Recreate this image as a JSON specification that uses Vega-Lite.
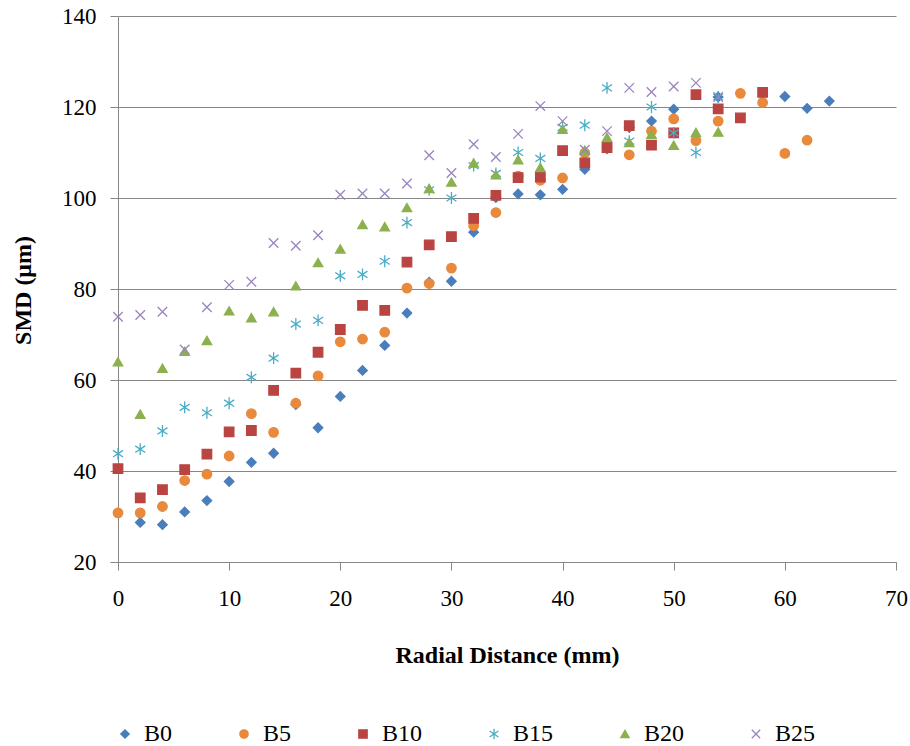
{
"$schema": "https://vega.github.io/schema/vega-lite/v6.json",
"width": 778, "height": 546,
"autosize": {"type": "none"},
"padding": {"left": 118, "top": 16, "right": 14, "bottom": 184},
"background": "white",
"config": {"view": {"stroke": null}, "font": "Liberation Serif",
 "legend": {"orient": "none", "legendX": -5, "legendY": 706, "direction": "horizontal", "columnPadding": 59, "padding": 0,
  "labelFont": "Liberation Serif", "labelFontSize": 24, "labelColor": "#000", "labelOffset": 7, "symbolSize": 70, "symbolStrokeWidth": 1.3, "title": null}},
"data": {"values": [
{"s":"B0","x":2,"v":28.7},{"s":"B0","x":4,"v":28.2},{"s":"B0","x":6,"v":31.0},{"s":"B0","x":8,"v":33.5},{"s":"B0","x":10,"v":37.7},{"s":"B0","x":12,"v":41.9},{"s":"B0","x":14,"v":43.9},{"s":"B0","x":16,"v":54.6},{"s":"B0","x":18,"v":49.5},{"s":"B0","x":20,"v":56.4},{"s":"B0","x":22,"v":62.1},{"s":"B0","x":24,"v":67.6},{"s":"B0","x":26,"v":74.7},{"s":"B0","x":28,"v":81.5},{"s":"B0","x":30,"v":81.7},{"s":"B0","x":32,"v":92.5},{"s":"B0","x":34,"v":100.1},{"s":"B0","x":36,"v":100.9},{"s":"B0","x":38,"v":100.7},{"s":"B0","x":40,"v":101.9},{"s":"B0","x":42,"v":106.3},{"s":"B0","x":44,"v":110.8},{"s":"B0","x":46,"v":115.5},{"s":"B0","x":48,"v":116.9},{"s":"B0","x":50,"v":119.5},{"s":"B0","x":54,"v":122.2},{"s":"B0","x":60,"v":122.3},{"s":"B0","x":62,"v":119.7},{"s":"B0","x":64,"v":121.3},
{"s":"B5","x":0,"v":30.8},{"s":"B5","x":2,"v":30.8},{"s":"B5","x":4,"v":32.2},{"s":"B5","x":6,"v":37.9},{"s":"B5","x":8,"v":39.3},{"s":"B5","x":10,"v":43.3},{"s":"B5","x":12,"v":52.6},{"s":"B5","x":14,"v":48.5},{"s":"B5","x":16,"v":54.9},{"s":"B5","x":18,"v":60.9},{"s":"B5","x":20,"v":68.4},{"s":"B5","x":22,"v":69.0},{"s":"B5","x":24,"v":70.5},{"s":"B5","x":26,"v":80.2},{"s":"B5","x":28,"v":81.2},{"s":"B5","x":30,"v":84.6},{"s":"B5","x":32,"v":93.9},{"s":"B5","x":34,"v":96.8},{"s":"B5","x":36,"v":104.8},{"s":"B5","x":38,"v":103.9},{"s":"B5","x":40,"v":104.4},{"s":"B5","x":42,"v":109.9},{"s":"B5","x":44,"v":111.3},{"s":"B5","x":46,"v":109.5},{"s":"B5","x":48,"v":114.7},{"s":"B5","x":50,"v":117.4},{"s":"B5","x":52,"v":112.6},{"s":"B5","x":54,"v":116.9},{"s":"B5","x":56,"v":123.0},{"s":"B5","x":58,"v":121.0},{"s":"B5","x":60,"v":109.8},{"s":"B5","x":62,"v":112.7},
{"s":"B10","x":0,"v":40.5},{"s":"B10","x":2,"v":34.1},{"s":"B10","x":4,"v":35.9},{"s":"B10","x":6,"v":40.3},{"s":"B10","x":8,"v":43.7},{"s":"B10","x":10,"v":48.6},{"s":"B10","x":12,"v":48.9},{"s":"B10","x":14,"v":57.7},{"s":"B10","x":16,"v":61.5},{"s":"B10","x":18,"v":66.1},{"s":"B10","x":20,"v":71.1},{"s":"B10","x":22,"v":76.4},{"s":"B10","x":24,"v":75.3},{"s":"B10","x":26,"v":85.9},{"s":"B10","x":28,"v":89.7},{"s":"B10","x":30,"v":91.5},{"s":"B10","x":32,"v":95.5},{"s":"B10","x":34,"v":100.6},{"s":"B10","x":36,"v":104.5},{"s":"B10","x":38,"v":104.6},{"s":"B10","x":40,"v":110.4},{"s":"B10","x":42,"v":107.7},{"s":"B10","x":44,"v":111.1},{"s":"B10","x":46,"v":115.9},{"s":"B10","x":48,"v":111.6},{"s":"B10","x":50,"v":114.3},{"s":"B10","x":52,"v":122.7},{"s":"B10","x":54,"v":119.6},{"s":"B10","x":56,"v":117.6},{"s":"B10","x":58,"v":123.2},
{"s":"B15","x":0,"v":43.8},{"s":"B15","x":2,"v":44.8},{"s":"B15","x":4,"v":48.8},{"s":"B15","x":6,"v":54.0},{"s":"B15","x":8,"v":52.8},{"s":"B15","x":10,"v":54.9},{"s":"B15","x":12,"v":60.6},{"s":"B15","x":14,"v":64.8},{"s":"B15","x":16,"v":72.3},{"s":"B15","x":18,"v":73.1},{"s":"B15","x":20,"v":82.9},{"s":"B15","x":22,"v":83.2},{"s":"B15","x":24,"v":86.1},{"s":"B15","x":26,"v":94.6},{"s":"B15","x":28,"v":101.8},{"s":"B15","x":30,"v":100.0},{"s":"B15","x":32,"v":107.1},{"s":"B15","x":34,"v":105.4},{"s":"B15","x":36,"v":110.0},{"s":"B15","x":38,"v":108.7},{"s":"B15","x":40,"v":115.5},{"s":"B15","x":42,"v":116.0},{"s":"B15","x":44,"v":124.2},{"s":"B15","x":46,"v":112.5},{"s":"B15","x":48,"v":120.0},{"s":"B15","x":50,"v":114.3},{"s":"B15","x":52,"v":110.0},{"s":"B15","x":54,"v":122.2},
{"s":"B20","x":0,"v":64.0},{"s":"B20","x":2,"v":52.5},{"s":"B20","x":4,"v":62.6},{"s":"B20","x":6,"v":66.3},{"s":"B20","x":8,"v":68.7},{"s":"B20","x":10,"v":75.2},{"s":"B20","x":12,"v":73.7},{"s":"B20","x":14,"v":75.0},{"s":"B20","x":16,"v":80.7},{"s":"B20","x":18,"v":85.8},{"s":"B20","x":20,"v":88.8},{"s":"B20","x":22,"v":94.2},{"s":"B20","x":24,"v":93.7},{"s":"B20","x":26,"v":97.9},{"s":"B20","x":28,"v":102.1},{"s":"B20","x":30,"v":103.5},{"s":"B20","x":32,"v":107.7},{"s":"B20","x":34,"v":105.1},{"s":"B20","x":36,"v":108.4},{"s":"B20","x":38,"v":106.7},{"s":"B20","x":40,"v":115.1},{"s":"B20","x":42,"v":110.5},{"s":"B20","x":44,"v":113.3},{"s":"B20","x":46,"v":112.2},{"s":"B20","x":48,"v":114.0},{"s":"B20","x":50,"v":111.6},{"s":"B20","x":52,"v":114.4},{"s":"B20","x":54,"v":114.5},
{"s":"B25","x":0,"v":73.9},{"s":"B25","x":2,"v":74.3},{"s":"B25","x":4,"v":75.0},{"s":"B25","x":6,"v":66.7},{"s":"B25","x":8,"v":76.0},{"s":"B25","x":10,"v":80.9},{"s":"B25","x":12,"v":81.6},{"s":"B25","x":14,"v":90.1},{"s":"B25","x":16,"v":89.5},{"s":"B25","x":18,"v":91.8},{"s":"B25","x":20,"v":100.7},{"s":"B25","x":22,"v":101.0},{"s":"B25","x":24,"v":101.0},{"s":"B25","x":26,"v":103.2},{"s":"B25","x":28,"v":109.4},{"s":"B25","x":30,"v":105.5},{"s":"B25","x":32,"v":111.8},{"s":"B25","x":34,"v":109.0},{"s":"B25","x":36,"v":114.1},{"s":"B25","x":38,"v":120.2},{"s":"B25","x":40,"v":116.9},{"s":"B25","x":42,"v":110.6},{"s":"B25","x":44,"v":114.7},{"s":"B25","x":46,"v":124.2},{"s":"B25","x":48,"v":123.3},{"s":"B25","x":50,"v":124.5},{"s":"B25","x":52,"v":125.3},{"s":"B25","x":54,"v":122.2}
]},
"mark": {"type": "point", "size": 90, "strokeWidth": 1.3, "opacity": 1},
"encoding": {
"x": {"field": "x", "type": "quantitative",
 "scale": {"domain": [0, 70], "nice": false, "zero": false},
 "axis": {"values": [0,10,20,30,40,50,60,70], "grid": false, "title": "Radial Distance (mm)",
  "domainColor": "#868686", "tickColor": "#868686", "tickSize": 8,
  "labelFont": "Liberation Serif", "labelFontSize": 23, "labelColor": "#000", "labelPadding": 17, "labelFlush": false,
  "titleFont": "Liberation Serif", "titleFontSize": 24, "titleFontWeight": "bold", "titleColor": "#000", "titleY": 93, "titleX": 389, "titleBaseline": "middle"}},
"y": {"field": "v", "type": "quantitative",
 "scale": {"domain": [20, 140], "nice": false, "zero": false},
 "axis": {"values": [20,40,60,80,100,120,140], "grid": true, "gridColor": "#868686", "gridWidth": 1.2, "title": "SMD (μm)",
  "domainColor": "#868686", "tickColor": "#868686", "tickSize": 8,
  "labelFont": "Liberation Serif", "labelFontSize": 23, "labelColor": "#000", "labelPadding": 14,
  "titleFont": "Liberation Serif", "titleFontSize": 24, "titleFontWeight": "bold", "titleColor": "#000", "titleX": -95, "titleY": 274, "titleBaseline": "middle"}},
"shape": {"field": "s", "type": "nominal", "sort": ["B0","B5","B10","B15","B20","B25"],
 "scale": {"domain": ["B0","B5","B10","B15","B20","B25"],
  "range": ["diamond","circle","square","M0,-1.25L0,1.25M-1.05,-0.7L1.05,0.7M-1.05,0.7L1.05,-0.7","triangle-up","M-1,-1L1,1M-1,1L1,-1"]}},
"fill": {"field": "s", "type": "nominal", "sort": ["B0","B5","B10","B15","B20","B25"],
 "scale": {"domain": ["B0","B5","B10","B15","B20","B25"], "range": ["#4A7EBB","#E8893C","#B94441","transparent","#8DB04F","transparent"]}},
"stroke": {"field": "s", "type": "nominal", "sort": ["B0","B5","B10","B15","B20","B25"],
 "scale": {"domain": ["B0","B5","B10","B15","B20","B25"], "range": ["#4A7EBB","#E8893C","#B94441","#4BACC6","#8DB04F","#9A84C0"]}}
}
}
